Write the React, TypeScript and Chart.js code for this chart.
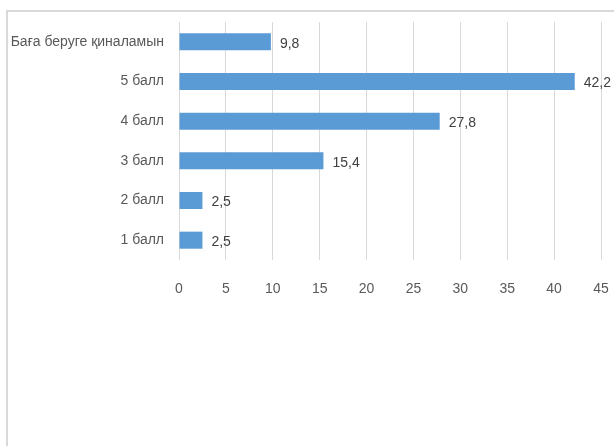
import React, { useEffect, useRef } from "react";
import { Chart, registerables } from "chart.js";

Chart.register(...registerables);

const categories = ["Баға беруге қиналамын", "5 балл", "4 балл", "3 балл", "2 балл", "1 балл"];
const values = [9.8, 42.2, 27.8, 15.4, 2.5, 2.5];
const xTicks = [0, 5, 10, 15, 20, 25, 30, 35, 40, 45];

const FONT = "'Liberation Sans', Arial, sans-serif";

const valueLabels = {
  id: "valueLabels",
  afterDatasetsDraw(chart: any) {
    const ctx = chart.ctx;
    const meta = chart.getDatasetMeta(0);
    ctx.save();
    ctx.font = `14px ${FONT}`;
    ctx.fillStyle = "#404040";
    ctx.textAlign = "left";
    ctx.textBaseline = "middle";
    meta.data.forEach((bar: any, i: number) => {
      const v = values[i];
      ctx.fillText(v.toFixed(1).replace(".", ","), bar.x + 9, bar.y + 2);
    });
    ctx.restore();
  },
};

export default function App() {
  const ref = useRef<HTMLCanvasElement>(null);
  useEffect(() => {
    document.body.style.margin = "0";
    const chart = new Chart(ref.current!, {
      type: "bar",
      data: {
        labels: categories,
        datasets: [
          {
            data: values,
            backgroundColor: "#5b9bd5",
            borderWidth: 0,
            barPercentage: 0.43,
            categoryPercentage: 1,
          },
        ],
      },
      options: {
        indexAxis: "y",
        animation: false,
        responsive: false,
        maintainAspectRatio: false,
        layout: { padding: { top: 22, right: 13, left: 0, bottom: 0 } },
        plugins: { legend: { display: false }, tooltip: { enabled: false } },
        scales: {
          x: {
            min: 0,
            max: 45,
            afterBuildTicks: (scale: any) => {
              scale.ticks = xTicks.map((v) => ({ value: v }));
            },
            afterFit: (scale: any) => {
              scale.height = 186;
              scale.paddingRight = 0;
              scale.paddingLeft = 0;
            },
            grid: { color: "#d9d9d9", drawTicks: false, lineWidth: 1 },
            border: { display: false },
            ticks: {
              padding: 21,
              color: "#595959",
              font: { family: FONT, size: 14 },
            },
          },
          y: {
            afterFit: (scale: any) => {
              scale.width = 179;
              scale.paddingTop = 0;
              scale.paddingBottom = 0;
            },
            grid: { display: false, drawTicks: false },
            border: { display: false },
            ticks: {
              padding: 15,
              color: "#595959",
              font: { family: FONT, size: 14 },
            },
          },
        },
      },
      plugins: [valueLabels],
    });
    return () => chart.destroy();
  }, []);

  return (
    <div style={{ position: "absolute", left: 0, top: 0, width: 614, height: 446, background: "#fff", overflow: "hidden" }}>
      <div
        style={{
          position: "absolute",
          left: 6,
          top: 10,
          width: 700,
          height: 600,
          borderLeft: "2px solid #d9d9d9",
          borderTop: "2px solid #d9d9d9",
        }}
      />
      <canvas ref={ref} width={614} height={446} style={{ position: "absolute", left: 0, top: 0, width: 614, height: 446 }} />
    </div>
  );
}
